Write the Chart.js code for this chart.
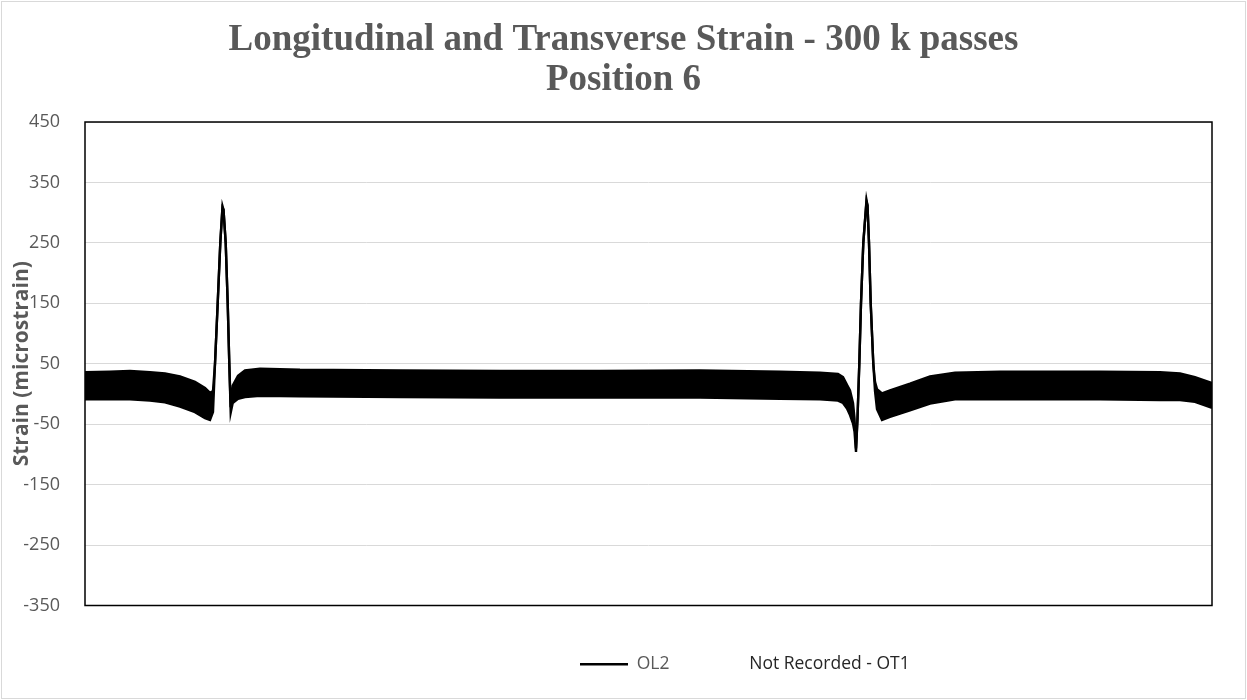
<!DOCTYPE html>
<html>
<head>
<meta charset="utf-8">
<script src="https://cdn.jsdelivr.net/npm/chart.js@4/dist/chart.umd.min.js"></script>
<style>
  html, body { margin: 0; padding: 0; background: #ffffff; }
  #wrap { width: 1247px; height: 700px; position: relative; }
</style>
</head>
<body>
<div id="wrap"><canvas id="c" width="1247" height="700"></canvas></div>
<script>
// ---- data ----
const chartTitle = ['Longitudinal and Transverse Strain - 300 k passes', 'Position 6'];
const yAxisTitle = 'Strain (microstrain)';
const yTicks = [450, 350, 250, 150, 50, -50, -150, -250, -350];
const seriesName = 'OL2';
const missingSeriesName = 'Not Recorded - OT1';

// sample position along the record
const sampleIndex = [0, 25, 45, 65, 80, 95, 110, 120, 125, 128, 130, 132.7, 135.3, 137.5, 138.5, 140.7, 142.7, 144.3, 145.7, 147.7,
  153, 160, 175, 215, 315, 415, 515, 615, 695, 735, 753, 758, 762, 765, 768, 769.5, 771, 772.5, 774.3, 776, 778.3,
  781.5, 782.5, 784, 785.7, 788.3, 790, 792, 797, 805, 825, 845, 870, 915, 1015, 1075, 1095, 1110, 1120, 1127];
// upper envelope of OL2 signal (microstrain)
const ol2Upper = [36, 37, 38, 36, 34, 29, 20, 10, 2, 5, 50, 150, 250, 311, 305, 250, 150, 50, -22, 14,
  30, 39, 42, 40, 39, 38, 38, 39, 37, 35, 33, 28, 15, 6, -15, -40, -90, -40, 50, 150, 250,
  321, 312, 250, 150, 50, 20, 8, 1, 6, 17, 29, 35, 37, 37, 36, 34, 28, 22, 18];
// lower envelope of OL2 signal (microstrain)
const ol2Lower = [-9, -9, -9, -11, -14, -21, -30, -40, -43, -30, 50, 150, 250, 308, 305, 250, 150, 50, -31, -15,
  -8, -5, -3, -4, -5, -6, -6, -6, -8, -9, -11, -15, -24, -35, -49, -62, -96, -40, 50, 150, 250,
  318, 312, 250, 150, 50, 5, -25, -43, -38, -27, -16, -9, -9, -9, -10, -10, -13, -19, -23, -25];

const upperPts = sampleIndex.map((x, i) => ({ x: x, y: ol2Upper[i] }));
const lowerPts = sampleIndex.map((x, i) => ({ x: x, y: ol2Lower[i] }));

const GRAY = '#595959';

const decorPlugin = {
  id: 'decor',
  afterLayout(chart) {
    const lg = chart.legend;
    if (lg && lg.lineWidths) {
      const pad = lg.options.labels.padding;
      const start = (lg.left + pad + lg.right - lg.lineWidths[0]) / 2;
      const dx = 580 - start;
      lg.left += dx; lg.right += dx;
    }
  },
  beforeDraw(chart) {
    const ctx = chart.ctx;
    ctx.save();
    ctx.fillStyle = '#ffffff';
    ctx.fillRect(0, 0, chart.width, chart.height);
    ctx.strokeStyle = '#d9d9d9';
    ctx.lineWidth = 1;
    ctx.strokeRect(1.5, 1.5, chart.width - 3, chart.height - 3);
    ctx.restore();
  },
  afterDraw(chart) {
    const ctx = chart.ctx;
    const a = chart.chartArea;
    ctx.save();
    ctx.strokeStyle = '#000000';
    ctx.lineWidth = 1.5;
    ctx.strokeRect(a.left, a.top, a.right - a.left, a.bottom - a.top);
    ctx.translate(22, (a.top + a.bottom) / 2);
    ctx.rotate(-Math.PI / 2);
    ctx.fillStyle = GRAY;
    ctx.font = 'bold 21px "Open Sans"';
    ctx.textAlign = 'center';
    ctx.textBaseline = 'middle';
    ctx.fillText(yAxisTitle, 0, 0);
    ctx.restore();
  }
};

new Chart(document.getElementById('c'), {
  type: 'line',
  data: {
    datasets: [
      { label: seriesName, data: upperPts, borderColor: '#000', backgroundColor: '#000', borderWidth: 2.4, pointRadius: 0, tension: 0, fill: false },
      { label: seriesName + ' (lower)', data: lowerPts, borderColor: '#000', backgroundColor: '#000', borderWidth: 2.4, pointRadius: 0, tension: 0, fill: '-1' },
      { label: missingSeriesName, data: [], borderColor: 'rgba(0,0,0,0)', backgroundColor: 'rgba(0,0,0,0)', pointRadius: 0 }
    ]
  },
  options: {
    responsive: false,
    animation: false,
    layout: { padding: { left: 0, right: 0, top: 0, bottom: 17 } },
    plugins: {
      tooltip: { enabled: false },
      title: {
        display: true,
        text: chartTitle,
        color: GRAY,
        font: { family: '"Liberation Serif"', size: 37, weight: 'bold', lineHeight: 1.073 },
        padding: { top: 21, bottom: 21.6 }
      },
      legend: {
        position: 'bottom',
        labels: {
          boxWidth: 48,
          boxHeight: 2.5,
          padding: 23,
          font: { family: '"Open Sans"', size: 17.5 },
          generateLabels: () => [
            { text: seriesName, fillStyle: '#000', strokeStyle: '#000', lineWidth: 0, fontColor: GRAY, datasetIndex: 0, hidden: false },
            { text: missingSeriesName, fillStyle: 'rgba(0,0,0,0)', strokeStyle: 'rgba(0,0,0,0)', lineWidth: 0, fontColor: '#262626', datasetIndex: 2, hidden: false }
          ]
        }
      }
    },
    scales: {
      x: {
        type: 'linear', min: 0, max: 1127,
        ticks: { display: false },
        grid: { display: false },
        border: { display: false },
        afterFit(s) { s.height = 27; }
      },
      y: {
        min: -350, max: 450,
        afterBuildTicks(s) { s.ticks = yTicks.map(v => ({ value: v })); },
        ticks: { color: GRAY, padding: 25, font: { family: '"Open Sans"', size: 18 } },
        grid: { color: '#d9d9d9', lineWidth: 1, drawTicks: false },
        border: { display: false },
        afterFit(s) { s.width = 85; }
      },
      yR: {
        position: 'right',
        display: true,
        ticks: { display: false },
        grid: { display: false },
        border: { display: false },
        afterFit(s) { s.width = 35; }
      }
    }
  },
  plugins: [decorPlugin]
});
</script>
</body>
</html>
